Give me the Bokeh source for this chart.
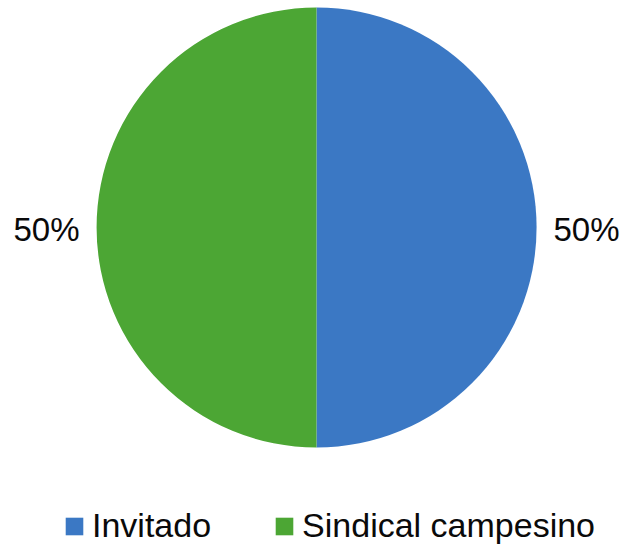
import math
from bokeh.plotting import figure
from bokeh.models import Range1d, Legend, LegendItem, ColumnDataSource
from bokeh.embed import file_html
from bokeh.resources import INLINE
from bokeh.core.properties import value

categories = ["Invitado", "Sindical campesino"]
shares = [50, 50]
pct_labels = ["50%", "50%"]
colors = ["#3b78c4", "#4ca634"]

W, H = 641, 545
p = figure(width=W, height=H, output_backend="svg", toolbar_location=None,
           x_range=Range1d(0, W), y_range=Range1d(0, H), min_border=0)
p.axis.visible = False
p.grid.visible = False
p.outline_line_color = None
p.background_fill_color = "white"
p.border_fill_color = "white"

cx, cy, R = 316, 318, 220
total = sum(shares)
starts, ends, mids = [], [], []
cum = 0
for s in shares:
    a0 = math.pi / 2 - 2 * math.pi * cum / total
    cum += s
    a1 = math.pi / 2 - 2 * math.pi * cum / total
    starts.append(a0)
    ends.append(a1)
    mids.append((a0 + a1) / 2)

src = ColumnDataSource(dict(start=starts, end=ends, color=colors, cat=categories))
r = p.wedge(x=cx, y=cy, radius=R, start_angle="start", end_angle="end",
            direction="clock", fill_color="color", line_color=None, source=src)

LR = 270
lab = ColumnDataSource(dict(
    x=[cx + LR * math.cos(m) for m in mids],
    y=[cy - 1.5 + LR * math.sin(m) for m in mids],
    t=pct_labels))
p.text(x="x", y="y", text="t", source=lab, text_align="center", text_baseline="middle",
       text_font=value("Liberation Sans"), text_font_size="33px", text_color="#0a0a0a")

legend = Legend(items=[LegendItem(label=categories[i], renderers=[r], index=i) for i in range(len(categories))],
                orientation="horizontal", location=(63, 0),
                glyph_width=22, glyph_height=22, label_standoff=7, spacing=62,
                label_text_font="Liberation Sans", label_text_font_size="34px",
                label_text_color="#0a0a0a",
                padding=0, margin=0, border_line_alpha=0, background_fill_alpha=0)
p.add_layout(legend)

open("out.html", "w").write(file_html(p, INLINE))
